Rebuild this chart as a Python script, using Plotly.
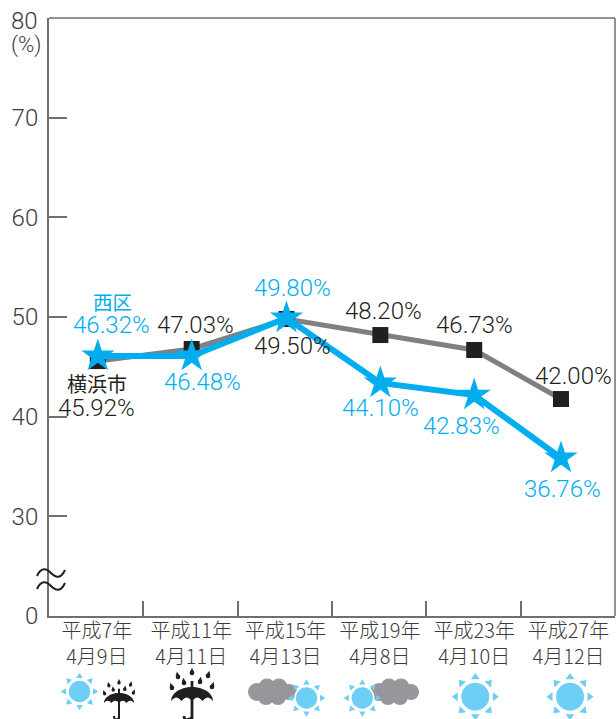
import math
import plotly.graph_objects as go

# ---- data -------------------------------------------------------------
election_years = [7.07, 11.05, 15.07, 19.05, 23.03, 26.71]   # drawn positions
yokohama_plotted = [45.58, 46.79, 49.80, 48.19, 46.69, 41.77]
nishi_plotted = [46.09, 46.09, 49.90, 43.38, 42.17, 35.85]
yokohama_labels = ["45.92%", "47.03%", "49.50%", "48.20%", "46.73%", "42.00%"]
nishi_labels = ["46.32%", "46.48%", "49.80%", "44.10%", "42.83%", "36.76%"]
category_years = [7, 11, 15, 19, 23, 27]
category_labels = ["平成7年<br>4月9日", "平成11年<br>4月11日", "平成15年<br>4月13日",
                   "平成19年<br>4月8日", "平成23年<br>4月10日", "平成27年<br>4月12日"]
boundary_years = [9, 13, 17, 21, 25]
y_ticks = [20, 30, 40, 50, 60, 70, 80]
y_tick_labels = ["0", "30", "40", "50", "60", "70", ""]

# ---- style ------------------------------------------------------------
W, H = 616, 719
L, R, T, B = 49, 615, 18, 616
BLUE, GREY, INK, AXIS = "#00AEEF", "#808083", "#231F20", "#6f6f6f"
SUN, CLOUD = "#6DCFF6", "#97979B"
NUM_FAMILY = "Roboto, Liberation Sans, sans-serif"
NUM_SIZE = 24
CJK = "Noto Sans CJK JP"
TICK_INK = "#3c3c3c"


def px(x):
    return (x - L) / (R - L)


def py(y):
    return (B - y) / (B - T)


def path_shape(path, fill=None, line=None, width=0):
    return dict(type="path", xref="paper", yref="paper", path=path,
                fillcolor=fill or "rgba(0,0,0,0)",
                line=dict(color=line or "rgba(0,0,0,0)", width=width), layer="above")


def poly(points):
    return "M" + " L".join(f"{px(a):.5f},{py(b):.5f}" for a, b in points) + " Z"


def circle(cx, cy, r, fill):
    return dict(type="circle", xref="paper", yref="paper", x0=px(cx - r), x1=px(cx + r),
                y0=py(cy + r), y1=py(cy - r), fillcolor=fill, line=dict(width=0), layer="above")


def sun(cx, cy, r, ray_in, ray_out, half):
    out = [circle(cx, cy, r + 1.6, "white"), circle(cx, cy, r, SUN)]
    for i in range(8):
        a = i * math.pi / 4
        ca, sa = math.cos(a), math.sin(a)
        out.append(path_shape(poly([
            (cx + ray_out * ca, cy + ray_out * sa),
            (cx + ray_in * ca - half * sa, cy + ray_in * sa + half * ca),
            (cx + ray_in * ca + half * sa, cy + ray_in * sa - half * ca)]), SUN))
    return out


def cloud(cx, cy, s):
    blobs = [(-15, 0, 9), (-5, -5, 8.5), (7, -5, 8.5), (17, 0, 8), (6, 5, 8), (-6, 5, 8), (-1, 0, 10)]
    return [circle(cx + a * s, cy + b * s, c * s, CLOUD) for a, b, c in blobs]


def drop(x, y, s, lean):
    r = 2.3 * s
    return [circle(x, y, r, INK),
            path_shape(poly([(x - r, y - 0.3 * r), (x + r, y - 0.3 * r), (x + lean * s, y - 2.3 * r)]), INK)]


def umbrella(cx, top, s, hook):
    out = []
    r = 21 * s
    h = 14 * s
    base = top + h
    pts = [(cx + r * math.cos(t * math.pi / 24), base - h * math.sin(t * math.pi / 24))
           for t in range(24, -1, -1)]
    n = 4
    hem = []
    for i in range(n):
        x0 = cx + r - 2 * r * i / n
        x1 = cx + r - 2 * r * (i + 1) / n
        for k in range(7):
            f = k / 6
            hem.append((x0 + (x1 - x0) * f, base - 3.4 * s * math.sin(f * math.pi)))
    out.append(path_shape(poly(pts + hem), INK))
    width = max(1.8, 2.8 * s)
    out.append(dict(type="line", xref="paper", yref="paper", x0=px(cx), x1=px(cx),
                    y0=py(top - 6 * s), y1=py(719),
                    line=dict(color=INK, width=width), layer="above"))
    out.append(path_shape(f"M{px(cx - hook):.5f},{py(716):.5f} "
                          f"Q{px(cx - hook):.5f},{py(722):.5f} {px(cx):.5f},{py(718):.5f}",
                          None, INK, width))
    for dx, dy in [(-20, 1), (-14, -10), (-8, -4), (8, -5), (16, -11), (20, 0), (0, -14)]:
        out += drop(cx + dx * s, top + dy * s, s, dx / 12)
    return out


def wave(y):
    x0, x1 = 37, 65
    w = (x1 - x0) / 4
    d = f"M{px(x0):.5f},{py(y + 3):.5f} "
    d += f"C{px(x0 + w * .6):.5f},{py(y - 6):.5f} {px(x0 + w * 1.3):.5f},{py(y - 5):.5f} {px(x0 + 2 * w):.5f},{py(y):.5f} "
    d += f"C{px(x0 + w * 2.7):.5f},{py(y + 5):.5f} {px(x0 + w * 3.4):.5f},{py(y + 6):.5f} {px(x1):.5f},{py(y - 3):.5f}"
    return path_shape(d, None, INK, 2)


fig = go.Figure()
fig.add_trace(go.Scatter(x=election_years, y=yokohama_plotted, mode="lines+markers", name="横浜市",
                         line=dict(color=GREY, width=5),
                         marker=dict(symbol="square", size=16, color=INK), cliponaxis=False))
fig.add_trace(go.Scatter(x=election_years, y=nishi_plotted, mode="lines+markers", name="西区",
                         line=dict(color=BLUE, width=6),
                         marker=dict(symbol="star", size=25, color=BLUE), cliponaxis=False))

annotations = []


def label(x, y, text, color, cx, cy, family=None, size=NUM_SIZE, weight=300):
    """Place a label relative to its data point, with the centre at pixel cx, cy."""
    xp = L + (x - 5) / 24 * (R - L)
    yp = B - (y - 20) / 60 * (B - T)
    font = dict(family=family or NUM_FAMILY, size=size, color=color, weight=weight)
    annotations.append(dict(x=x, y=y, xref="x", yref="y", text=text, showarrow=False,
                            xanchor="center", yanchor="middle", xshift=cx - xp, yshift=yp - cy, font=font))


blue_pos = [(111, 325), (202, 382), (293, 288), (380, 408), (461, 426), (563, 489)]
black_pos = [(96, 408), (195, 325), (293, 346), (383, 311), (474, 325), (574, 376)]
for i in range(6):
    label(election_years[i], nishi_plotted[i], nishi_labels[i], BLUE, *blue_pos[i])
    label(election_years[i], yokohama_plotted[i], yokohama_labels[i], INK, *black_pos[i])
label(election_years[0], nishi_plotted[0], "西区", BLUE, 112, 301, CJK, 19.5, 400)
label(election_years[0], yokohama_plotted[0], "横浜市", INK, 97, 384, CJK, 20, 400)
annotations.append(dict(x=px(26), y=py(45), xref="paper", yref="paper", text="(%)", showarrow=False,
                        xanchor="center", yanchor="middle",
                        font=dict(family=NUM_FAMILY, size=22, weight=300, color=TICK_INK)))
annotations.append(dict(x=px(38), y=py(21), xref="paper", yref="paper", text="80", showarrow=False,
                        xanchor="right", yanchor="middle", xshift=2,
                        font=dict(family=NUM_FAMILY, size=24, weight=300, color=TICK_INK)))

shapes = []
shapes += [wave(573), wave(586)]
shapes += sun(79.5, 691.5, 10.7, 13.5, 18.8, 3.2)
shapes += umbrella(119, 693, 0.72, 5)
shapes += umbrella(192, 687, 1.0, 8)
shapes += cloud(272, 692, 1.0)
shapes += sun(306.5, 698, 10.7, 13.5, 18.8, 3.2)
shapes += cloud(394, 692, 1.0)
shapes += sun(362.3, 698, 10.7, 13.5, 18.8, 3.2)
shapes += sun(475.3, 696.7, 14, 17.5, 23.5, 4.5)
shapes += sun(570, 696.7, 14, 17.5, 23.5, 4.5)

axis_line = dict(showline=True, linecolor=AXIS, linewidth=2, mirror=False, showgrid=False, zeroline=False)
fig.update_layout(
    width=W, height=H, autosize=False, showlegend=False,
    paper_bgcolor="white", plot_bgcolor="white",
    margin=dict(l=L, r=W - R, t=T, b=H - B, pad=0),
    annotations=annotations, shapes=shapes,
    xaxis=dict(axis_line, range=[5, 29], tickmode="array", tickvals=[y + 0.03 for y in category_years],
               ticktext=category_labels, ticks="", tickangle=0, ticklabelstandoff=-4,
               tickfont=dict(family=CJK, size=20, color=TICK_INK, weight=300),
               minor=dict(tickmode="array", tickvals=boundary_years, ticks="inside", ticklen=15,
                          tickwidth=1.5, tickcolor=AXIS, showgrid=False)),
    yaxis=dict(axis_line, range=[20, 80], tickmode="array", tickvals=y_ticks, ticktext=y_tick_labels,
               ticks="inside", ticklen=18, tickwidth=1.5, tickcolor=AXIS, ticklabelstandoff=4,
               tickfont=dict(family=NUM_FAMILY, size=24, color=TICK_INK, weight=300)),
)
# frame: top and right edges
fig.add_shape(type="line", xref="paper", yref="paper", x0=0, x1=1, y0=1, y1=1, line=dict(color=AXIS, width=1.5))
fig.add_shape(type="line", xref="paper", yref="paper", x0=1, x1=1, y0=0, y1=1, line=dict(color=AXIS, width=1.5))

fig.write_html("out.html", config=dict(displayModeBar=False),
               post_script="document.body.style.margin='0';document.body.style.overflow='hidden';")
